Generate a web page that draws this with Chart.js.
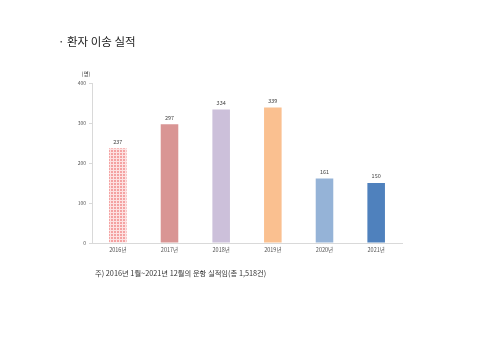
<!DOCTYPE html>
<html>
<head>
<meta charset="utf-8">
<script src="https://cdn.jsdelivr.net/npm/chart.js@4"></script>
<style>
    body { margin: 0; background: #fff; }
    #wrap { position: relative; width: 480px; height: 339px; font-family: "Noto Sans CJK KR", sans-serif; }
    #titulo { position: absolute; left: 58px; top: 33px; font-size: 11.5px; color: #222; }
    #nota { position: absolute; left: 95px; top: 268px; font-size: 7.3px; color: #333; }
    canvas { position: absolute; left: 0; top: 0; }
</style>
</head>
<body>
<div id="wrap">
    <canvas id="graficoBar" width="480" height="339"></canvas>
    <div id="titulo">· 환자 이송 실적</div>
    <div id="nota">주) 2016년 1월~2021년 12월의 운항 실적임(총 1,518건)</div>
</div>
<script>
// dados do grafico
const anos = ['2016년', '2017년', '2018년', '2019년', '2020년', '2021년'];
const pacientes = [237, 297, 334, 339, 161, 150];
const cores = ['#f4a0a0', '#d99594', '#ccc0da', '#fac090', '#95b3d7', '#4f81bd'];
const ticksY = [0, 100, 200, 300, 400];

// padrao xadrez da primeira barra
function criarPadrao() {
    const c = document.createElement('canvas');
    c.width = 3;
    c.height = 3;
    const g = c.getContext('2d');
    g.fillStyle = '#fde2e2';
    g.fillRect(0, 0, 3, 3);
    g.fillStyle = '#f4a2a2';
    g.fillRect(0, 0, 2, 2);
    return g.createPattern(c, 'repeat');
}

const ctx = document.getElementById('graficoBar').getContext('2d');
const fundo = cores.slice();
fundo[0] = criarPadrao();

const rotulos = {
    id: 'rotulos',
    afterDatasetsDraw(chart) {
        const g = chart.ctx;
        const meta = chart.getDatasetMeta(0);
        g.save();
        g.font = '5.5px "Noto Sans CJK KR"';
        g.fillStyle = '#444';
        g.textAlign = 'center';
        g.textBaseline = 'bottom';
        meta.data.forEach((bar, i) => {
            g.fillText(pacientes[i], bar.x, bar.y - 4);
        });
        // unidade
        g.fillStyle = '#333';
        g.fillText('(명)', 86, 77);
        g.restore();
    }
};

new Chart(ctx, {
    type: 'bar',
    data: {
        labels: anos,
        datasets: [{
            data: pacientes,
            backgroundColor: fundo,
            barPercentage: 0.34,
            categoryPercentage: 1
        }]
    },
    options: {
        responsive: false,
        animation: false,
        layout: { padding: { left: 68, right: 78, top: 83, bottom: 72 } },
        plugins: { legend: { display: false }, tooltip: { enabled: false } },
        scales: {
            x: {
                grid: { display: false, drawTicks: false },
                border: { color: '#d9d9d9', width: 1 },
                ticks: { color: '#555', font: { size: 5.5, family: 'Noto Sans CJK KR' }, padding: 4 },
                afterFit(s) { s.height = 24; }
            },
            y: {
                min: 0,
                max: 400,
                afterBuildTicks(s) { s.ticks = ticksY.map(v => ({ value: v })); },
                grid: { drawOnChartArea: false, tickLength: 3, color: '#d9d9d9' },
                border: { color: '#d9d9d9', width: 1 },
                ticks: { color: '#555', font: { size: 5, family: 'Noto Sans CJK KR' }, padding: 3 },
                afterFit(s) { s.width = 24; }
            }
        }
    },
    plugins: [rotulos]
});
</script>
</body>
</html>
